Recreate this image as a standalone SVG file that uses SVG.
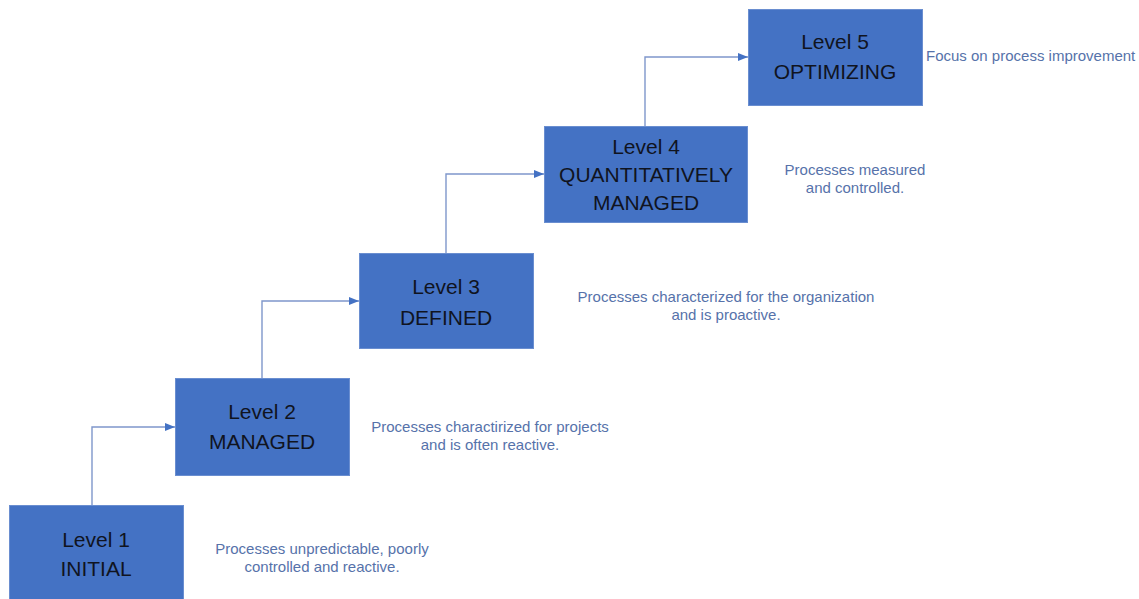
<svg xmlns="http://www.w3.org/2000/svg" width="1139" height="599" viewBox="0 0 1139 599">
  <defs>
    <marker id="arrow" markerWidth="10" markerHeight="8" refX="10" refY="4" orient="auto" markerUnits="userSpaceOnUse">
      <path d="M0,0 L10,4 L0,8 Z" fill="#4472c4"/>
    </marker>
    <style>
      .box { fill: #4472c4; stroke: #6a8ed0; stroke-width: 1; }
      .lbl { font-family: "Liberation Sans", Arial, sans-serif; font-size: 21px; fill: #10141f; text-anchor: middle; }
      .desc { font-family: "Liberation Sans", Arial, sans-serif; font-size: 15px; fill: #5672aa; text-anchor: middle; }
      .conn { fill: none; stroke: #7f97cb; stroke-width: 1.4; marker-end: url(#arrow); }
    </style>
  </defs>
  <rect width="1139" height="599" fill="#ffffff"/>

  <g id="connectors">
    <path class="conn" d="M92,505 V427 H175"/>
    <path class="conn" d="M262,378 V301 H359"/>
    <path class="conn" d="M446,253 V174 H544"/>
    <path class="conn" d="M645,126 V57 H748"/>
  </g>

  <g id="level1">
    <rect class="box" x="9.5" y="505.5" width="174" height="98"/>
    <text class="lbl" x="96" y="547">Level 1</text>
    <text class="lbl" x="96" y="576">INITIAL</text>
    <text class="desc" x="322" y="554">Processes unpredictable, poorly</text>
    <text class="desc" x="322" y="572">controlled and reactive.</text>
  </g>

  <g id="level2">
    <rect class="box" x="175.5" y="378.5" width="174" height="97"/>
    <text class="lbl" x="262" y="419">Level 2</text>
    <text class="lbl" x="262" y="449">MANAGED</text>
    <text class="desc" x="490" y="432">Processes charactirized for projects</text>
    <text class="desc" x="490" y="450">and is often reactive.</text>
  </g>

  <g id="level3">
    <rect class="box" x="359.5" y="253.5" width="174" height="95"/>
    <text class="lbl" x="446" y="294">Level 3</text>
    <text class="lbl" x="446" y="325">DEFINED</text>
    <text class="desc" x="726" y="302">Processes characterized for the organization</text>
    <text class="desc" x="726" y="320">and is proactive.</text>
  </g>

  <g id="level4">
    <rect class="box" x="544.5" y="126.5" width="203" height="96"/>
    <text class="lbl" x="646" y="154">Level 4</text>
    <text class="lbl" x="646" y="182">QUANTITATIVELY</text>
    <text class="lbl" x="646" y="210">MANAGED</text>
    <text class="desc" x="855" y="175">Processes measured</text>
    <text class="desc" x="855" y="193">and controlled.</text>
  </g>

  <g id="level5">
    <rect class="box" x="748.5" y="9.5" width="174" height="96"/>
    <text class="lbl" x="835" y="49">Level 5</text>
    <text class="lbl" x="835" y="79">OPTIMIZING</text>
    <text class="desc" x="926" y="61" style="text-anchor:start">Focus on process improvement</text>
  </g>
</svg>
